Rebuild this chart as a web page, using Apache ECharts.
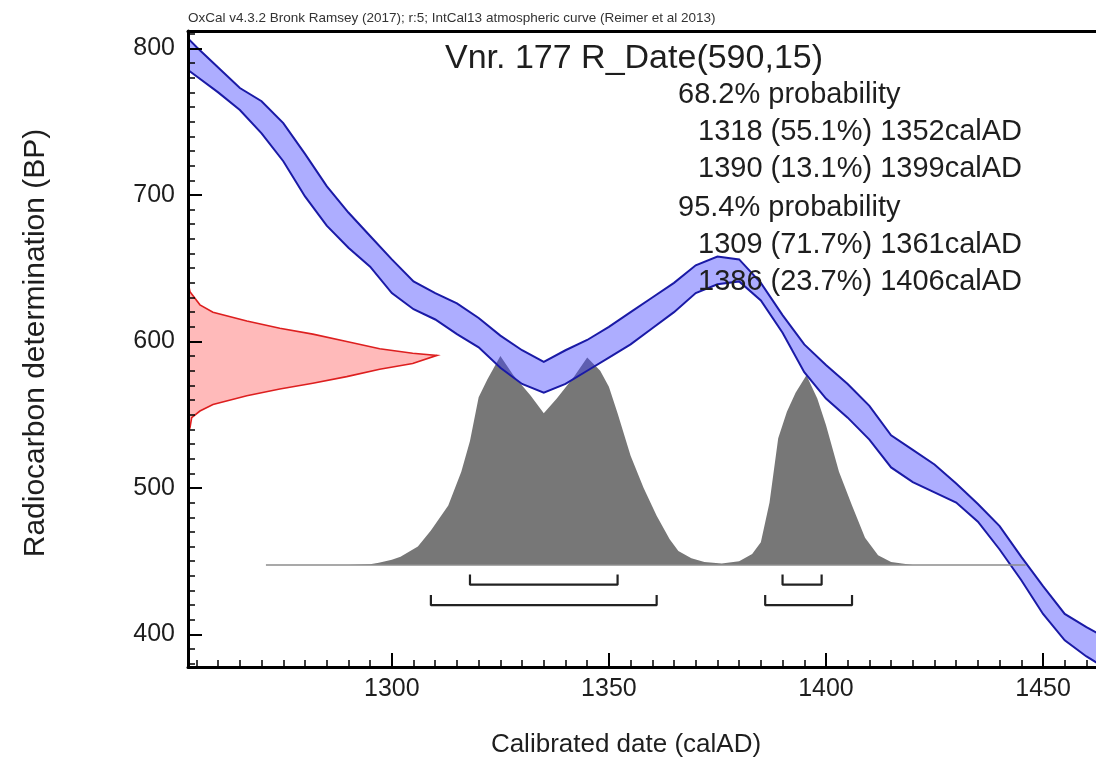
<!DOCTYPE html>
<html>
<head>
<meta charset="utf-8">
<title>Vnr. 177 R_Date(590,15)</title>
<script src="https://cdn.jsdelivr.net/npm/echarts@6.0.0/dist/echarts.min.js"></script>
<style>
  html, body { margin: 0; padding: 0; background: #fff; }
  #chart { width: 1096px; height: 765px; }
</style>
</head>
<body>
<div id="chart"></div>
<script>
// IntCal13 band (upper / lower edge in BP)
const calYears = [1250, 1255, 1260, 1265, 1270, 1275, 1280, 1285, 1290, 1295,
  1300, 1305, 1310, 1315, 1320, 1325, 1330, 1335, 1340, 1345,
  1350, 1355, 1360, 1365, 1370, 1375, 1380, 1385, 1390, 1395,
  1400, 1405, 1410, 1415, 1420, 1425, 1430, 1435, 1440, 1445,
  1450, 1455, 1460, 1465];
const curveHighBP = [816, 801, 787, 773, 764, 749, 728, 706, 688, 672,
  656, 641, 633, 626, 616, 604, 594, 586, 594, 601,
  610, 620, 630, 640, 652, 658, 656, 640, 618, 598,
  584, 571, 556, 536, 526, 516, 503, 489, 474, 453,
  433, 414, 405, 397];
const curveLowBP = [792, 781, 770, 758, 742, 723, 699, 679, 664, 651,
  633, 622, 615, 605, 596, 582, 571, 565, 571, 580,
  589, 598, 609, 620, 633, 639, 641, 628, 606, 579,
  561, 548, 533, 514, 504, 497, 490, 477, 458, 437,
  414, 396, 385, 376];

// measured date R_Date(590,15), drawn against the y axis
const redBP = [640, 634, 625, 620, 614, 609, 605, 600, 595, 592, 590.5,
  585, 581, 576, 571.5, 567.5, 563, 557, 552.5, 548, 541, 538];
const redYear = [1253.1, 1253.5, 1255.8, 1258.8, 1266.6, 1274.2, 1281.8, 1289.6, 1297.2, 1304.8, 1310.4,
  1304.8, 1297.2, 1289.6, 1281.8, 1274.2, 1266.6, 1258.8, 1255.8, 1253.9, 1253.5, 1253.1];

// calibrated distribution (grey), plotted above a baseline
const grayBaseBP = 447.5;
const grayYears = [1271, 1290, 1295, 1297, 1300, 1302, 1306, 1309, 1313, 1316,
  1318, 1320, 1322, 1325, 1328, 1332, 1335, 1338, 1342, 1345,
  1348, 1350, 1352, 1355, 1358, 1361, 1364, 1366, 1369, 1372,
  1376, 1380, 1383, 1385, 1387, 1389, 1391, 1393, 1395.5, 1398,
  1400, 1403, 1406, 1409, 1412, 1415, 1420, 1446];
const grayBP = [447.5, 447.5, 448, 449, 451, 453, 460, 471, 488, 511,
  532, 562, 574, 590, 577, 563, 551, 561, 576, 589,
  580, 569, 551, 522, 500, 481, 465, 457, 452, 449.5,
  448.5, 450, 455, 463, 490, 534, 552, 565, 577, 561,
  543, 511, 488, 466, 454, 449.5, 447.5, 447.5];

// ranges
const range68 = [[1318, 1352], [1390, 1399]];
const pct68 = [55.1, 13.1];
const range95 = [[1309, 1361], [1386, 1406]];
const pct95 = [71.7, 23.7];
const bracket68BP = 434;
const bracket95BP = 420;
const bracketTickBP = 7;

const xMajor = [1300, 1350, 1400, 1450];
const yMajor = [400, 500, 600, 700, 800];
const X_MIN = 1253.05, X_MAX = 1462.2;
const Y_MIN = 377.8, Y_MAX = 811.9;

const xMinor = [];
for (let v = 1255; v < X_MAX; v += 5) xMinor.push(v);
const yMinor = [];
for (let v = 380; v < Y_MAX; v += 10) yMinor.push(v);

const FONT = "'Liberation Sans', Arial, Helvetica, sans-serif";
const TXT = '#1e1e1e';

const chart = echarts.init(document.getElementById('chart'));

function bandItem(params, api) {
  const pts = [];
  calYears.forEach((yr, i) => pts.push(api.coord([yr, curveHighBP[i]])));
  for (let i = calYears.length - 1; i >= 0; i--) pts.push(api.coord([calYears[i], curveLowBP[i]]));
  return {
    type: 'polygon', shape: { points: pts },
    style: { fill: 'rgba(60,60,255,0.42)', stroke: '#1a1aa6', lineWidth: 2 }
  };
}

function grayItem(params, api) {
  const pts = grayYears.map((yr, i) => api.coord([yr, grayBP[i]]));
  return { type: 'polygon', shape: { points: pts }, style: { fill: '#777777' } };
}

function redItem(params, api) {
  const pts = redYear.map((yr, i) => api.coord([yr, redBP[i]]));
  return {
    type: 'polygon', shape: { points: pts },
    style: { fill: 'rgba(255,40,40,0.32)', stroke: '#dd1f1f', lineWidth: 1.6 }
  };
}

function bracket(r, lvl) {
  return [[r[0], lvl + bracketTickBP], [r[0], lvl], [r[1], lvl], [r[1], lvl + bracketTickBP]];
}

const bracketSeries = [];
range68.forEach(r => bracketSeries.push(bracket(r, bracket68BP)));
range95.forEach(r => bracketSeries.push(bracket(r, bracket95BP)));

// probability text
const probLines = [{ text: '68.2% probability', indent: false }];
range68.forEach((r, i) => probLines.push({ text: r[0] + ' (' + pct68[i] + '%) ' + r[1] + 'calAD', indent: true }));
probLines.push({ text: '95.4% probability', indent: false });
range95.forEach((r, i) => probLines.push({ text: r[0] + ' (' + pct95[i] + '%) ' + r[1] + 'calAD', indent: true }));
const probY = [95, 132, 169, 208, 245, 282];

const graphics = [
  { type: 'text', x: 188, y: 18, z: 10,
    style: { text: 'OxCal v4.3.2 Bronk Ramsey (2017); r:5; IntCal13 atmospheric curve (Reimer et al 2013)',
      fontSize: 13.5, fontFamily: FONT, fill: '#333', verticalAlign: 'middle' } },
  { type: 'text', x: 445, y: 59, z: 10,
    style: { text: 'Vnr. 177 R_Date(590,15)', fontSize: 34, fontFamily: FONT, fill: TXT, verticalAlign: 'middle' } },
  { type: 'text', x: 626, y: 745, z: 10,
    style: { text: 'Calibrated date (calAD)', fontSize: 26, fontFamily: FONT, fill: TXT, align: 'center', verticalAlign: 'middle' } },
  { type: 'text', x: 36, y: 343, rotation: Math.PI / 2, z: 10,
    style: { text: 'Radiocarbon determination (BP)', fontSize: 30, fontFamily: FONT, fill: TXT, align: 'center', verticalAlign: 'middle' } }
];
probLines.forEach((l, i) => graphics.push({
  type: 'text', x: l.indent ? 698 : 678, y: probY[i], z: 10,
  style: { text: l.text, fontSize: 29, fontFamily: FONT, fill: TXT, verticalAlign: 'middle' }
}));

const series = [
  { type: 'custom', renderItem: grayItem, data: [0], clip: true, silent: true },
  { type: 'line', data: [[grayYears[0], grayBaseBP], [grayYears[grayYears.length - 1], grayBaseBP]],
    symbol: 'none', silent: true, lineStyle: { color: '#8c8c8c', width: 1.5 } },
  { type: 'custom', renderItem: redItem, data: [0], clip: true, silent: true },
  { type: 'custom', renderItem: bandItem, data: [0], clip: true, silent: true }
];
bracketSeries.forEach(d => series.push({
  type: 'line', data: d, symbol: 'none', silent: true,
  lineStyle: { color: '#222', width: 2.2 }
}));

const plain = v => String(Math.round(v));

chart.setOption({
  animation: false,
  backgroundColor: '#fff',
  grid: { left: 188, right: -2, top: 31, bottom: 98, containLabel: false },
  xAxis: [
    { type: 'value', min: X_MIN, max: X_MAX, position: 'bottom', z: 5,
      axisLine: { show: true, onZero: false, lineStyle: { color: '#000', width: 3 } },
      axisTick: { show: true, inside: true, length: 14, customValues: xMajor, lineStyle: { color: '#000', width: 2 } },
      axisLabel: { customValues: xMajor, formatter: plain, fontSize: 25, fontFamily: FONT, color: TXT, margin: 10 },
      splitLine: { show: false } },
    { type: 'value', min: X_MIN, max: X_MAX, position: 'bottom', z: 5,
      axisLine: { show: false },
      axisTick: { show: true, inside: true, length: 7, customValues: xMinor, lineStyle: { color: '#000', width: 1.5 } },
      axisLabel: { show: false }, splitLine: { show: false } },
    { type: 'value', min: X_MIN, max: X_MAX, position: 'top', z: 5,
      axisLine: { show: true, onZero: false, lineStyle: { color: '#000', width: 3 } },
      axisTick: { show: false }, axisLabel: { show: false }, splitLine: { show: false } }
  ],
  yAxis: [
    { type: 'value', min: Y_MIN, max: Y_MAX, position: 'left', z: 5,
      axisLine: { show: true, onZero: false, lineStyle: { color: '#000', width: 3 } },
      axisTick: { show: true, inside: true, length: 14, customValues: yMajor, lineStyle: { color: '#000', width: 2 } },
      axisLabel: { customValues: yMajor, formatter: plain, fontSize: 25, fontFamily: FONT, color: TXT, margin: 13 },
      splitLine: { show: false } },
    { type: 'value', min: Y_MIN, max: Y_MAX, position: 'left', z: 5,
      axisLine: { show: false },
      axisTick: { show: true, inside: true, length: 7, customValues: yMinor, lineStyle: { color: '#000', width: 1.5 } },
      axisLabel: { show: false }, splitLine: { show: false } }
  ],
  graphic: graphics,
  series: series
});
</script>
</body>
</html>
